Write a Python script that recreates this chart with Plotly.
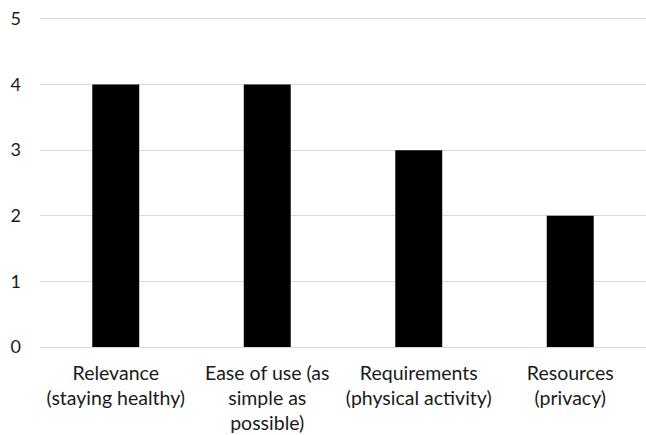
import plotly.graph_objects as go

categories = [
    "Relevance<br>(staying healthy)",
    "Ease of use (as<br>simple as<br>possible)",
    "Requirements<br>(physical activity)",
    "Resources<br>(privacy)",
]
values = [4, 4, 3, 2]
y_ticks = [0, 1, 2, 3, 4, 5]

fig = go.Figure(
    go.Bar(
        x=categories,
        y=values,
        marker=dict(color="#000000", line=dict(width=0)),
        width=0.31,
    )
)

fig.update_layout(
    width=646,
    height=435,
    margin=dict(l=40, r=0, t=17, b=88),
    paper_bgcolor="white",
    plot_bgcolor="white",
    font=dict(family="Lato, Open Sans, sans-serif", color="#1a1a1a"),
    showlegend=False,
)
fig.update_xaxes(
    tickfont=dict(size=19.5),
    showgrid=False,
    showline=False,
    ticks="",
    ticklabelstandoff=12,
)
fig.update_yaxes(
    range=[0, 5.03],
    tickvals=y_ticks,
    tickfont=dict(size=18),
    showgrid=True,
    gridcolor="#d9d9d9",
    gridwidth=1.3,
    zeroline=True,
    zerolinecolor="#d9d9d9",
    zerolinewidth=1.3,
    showline=False,
    ticks="",
    ticklabelstandoff=18,
)

fig.write_html("out.html")
